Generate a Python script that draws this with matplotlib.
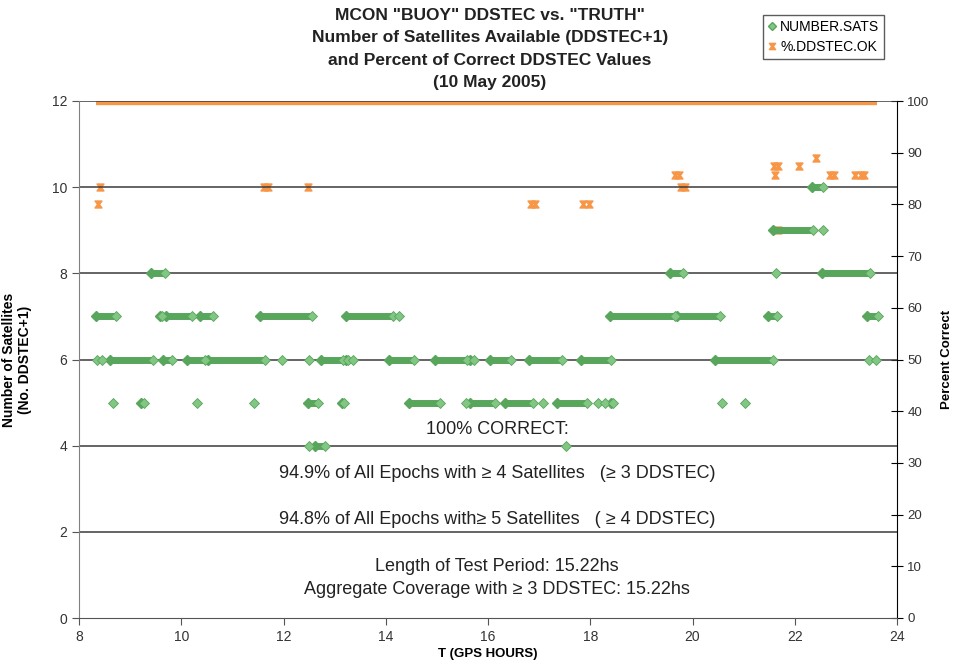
import numpy as np
import matplotlib
matplotlib.use("Agg")
import matplotlib.pyplot as plt
from matplotlib.path import Path

plt.rcParams['font.family'] = ['Liberation Sans', 'DejaVu Sans']

# number of satellites: runs (start hour, end hour) per level
sat_runs = {
    4: [(12.50, 12.50), (12.62, 12.81), (17.53, 17.53)],
    5: [(8.66, 8.66), (9.22, 9.28), (10.31, 10.31), (11.42, 11.42), (12.48, 12.67),
        (13.14, 13.18), (14.45, 15.06), (15.57, 15.57), (15.65, 16.14), (16.33, 16.88),
        (17.08, 17.08), (17.35, 17.94), (18.15, 18.15), (18.29, 18.29), (18.40, 18.45),
        (20.58, 20.58), (21.03, 21.03)],
    6: [(8.35, 8.35), (8.45, 8.45), (8.61, 9.45), (9.64, 9.82), (10.11, 10.46),
        (10.52, 11.64), (11.97, 11.97), (12.50, 12.50), (12.73, 13.16), (13.22, 13.27),
        (13.36, 13.36), (14.06, 14.55), (14.96, 15.59), (15.65, 15.72), (16.04, 16.45),
        (16.80, 17.45), (17.82, 18.41), (20.44, 21.57), (23.45, 23.45), (23.59, 23.59)],
    7: [(8.33, 8.72), (9.58, 9.62), (9.70, 10.21), (10.37, 10.62), (11.54, 12.56),
        (13.22, 14.14), (14.26, 14.26), (18.39, 19.66), (19.70, 20.54), (21.48, 21.65),
        (23.41, 23.63)],
    8: [(9.40, 9.68), (19.56, 19.81), (21.63, 21.63), (22.53, 23.47)],
    9: [(21.58, 22.36), (22.55, 22.55)],
    10: [(22.34, 22.55)],
}

# percent of correct DDSTEC values
pct_full_run = (8.33, 23.60)   # 100% over this span
pct_t = [8.37, 8.41, 11.62, 11.70, 12.48, 16.85, 16.91, 17.86, 17.98,
         19.66, 19.74, 19.78, 19.86, 21.60, 21.68, 21.62, 21.67,
         22.08, 22.42, 22.69, 22.77, 23.18, 23.29, 23.35]
pct_v = [80, 83.3, 83.3, 83.3, 83.3, 80, 80, 80, 80,
         85.7, 85.7, 83.3, 83.3, 87.5, 87.5, 85.7, 75,
         87.5, 88.9, 85.7, 85.7, 85.7, 85.7, 85.7]

green = '#58a55c'
green_lt = '#82c683'
orange = '#f79646'

hourglass = Path([(-1, 1), (1, 1), (0.25, 0), (1, -1), (-1, -1), (-0.25, 0), (-1, 1)],
                 [Path.MOVETO] + [Path.LINETO] * 5 + [Path.CLOSEPOLY])

fig = plt.figure(figsize=(9.56, 6.68), dpi=100)
ax = fig.add_axes([79 / 956, 50 / 668, 818 / 956, 517 / 668])
ax2 = ax.twinx()

ax.set_xlim(8, 24)
ax.set_ylim(0, 12)
ax2.set_ylim(0, 100)

for y in range(2, 13, 2):
    ax.axhline(y, color='#3a3a3a', lw=1.1, zorder=1)

for lvl, runs in sat_runs.items():
    for t0, t1 in runs:
        if t1 > t0:
            ax.plot([t0, t1], [lvl, lvl], color=green, lw=5, solid_capstyle='butt', zorder=3)
            ax.plot([t0], [lvl], 'D', ms=5.5, color=green, mec=green, zorder=3)
            ax.plot([t1], [lvl], 'D', ms=5.5, mfc=green_lt, mec=green, mew=0.6, zorder=4)
        else:
            ax.plot([t0], [lvl], 'D', ms=5, mfc=green_lt, mec=green, mew=0.6, zorder=4)

ax2.plot(pct_full_run, [100, 100], color=orange, lw=6, solid_capstyle='butt', zorder=3)
ax2.plot(pct_t, pct_v, ls='none', marker=hourglass, ms=5, color=orange, mec=orange, zorder=4)

ax.set_zorder(ax2.get_zorder() + 1)
ax.patch.set_visible(False)

for a in (ax, ax2):
    a.spines['top'].set_visible(False)
ax.spines['left'].set_color('#808080')
ax.spines['right'].set_visible(False)
ax.spines['bottom'].set_color('#555555')
ax2.spines['left'].set_visible(False)
ax2.spines['bottom'].set_visible(False)
ax2.spines['right'].set_color('black')

ax.set_xticks(range(8, 25, 2))
ax.set_yticks(range(0, 13, 2))
ax2.set_yticks(range(0, 101, 10))
ax.tick_params(axis='both', labelsize=10, labelcolor='#333333', length=5, color='#555555')
ax2.tick_params(axis='y', direction='inout', length=8, labelsize=9.5, labelcolor='#333333')

ax.set_xlabel('T (GPS HOURS)', fontsize=9.5, fontweight='bold', labelpad=3)
ax.set_ylabel('Number of Satellites\n(No. DDSTEC+1)', fontsize=10, fontweight='bold',
              labelpad=14)
ax2.set_ylabel('Percent Correct', fontsize=9.5, fontweight='bold', labelpad=8)

fig.text(490 / 956, 1 - 49 / 668,
         'MCON "BUOY" DDSTEC vs. "TRUTH"\nNumber of Satellites Available (DDSTEC+1)\n'
         'and Percent of Correct DDSTEC Values\n(10 May 2005)',
         ha='center', va='center', fontsize=12.5, fontweight='bold', color='#222222',
         linespacing=1.62)

txt = dict(ha='center', va='center', fontsize=13, color='#222222',
           transform=fig.transFigure)
fig.text(497 / 956, 1 - 429 / 668, '100% CORRECT:', **txt)
fig.text(497 / 956, 1 - 474 / 668,
         '94.9% of All Epochs with \u2265 4 Satellites   (\u2265 3 DDSTEC)', **txt)
fig.text(497 / 956, 1 - 520 / 668,
         '94.8% of All Epochs with\u2265 5 Satellites   ( \u2265 4 DDSTEC)', **txt)
fig.text(497 / 956, 1 - 578 / 668,
         'Length of Test Period: 15.22hs\nAggregate Coverage with \u2265 3 DDSTEC: 15.22hs',
         linespacing=1.4, **txt)

# legend
h1, = ax.plot([], [], 'D', ms=4.5, mfc=green_lt, mec=green, ls='none')
h2, = ax.plot([], [], ls='none', marker=hourglass, ms=4.5, color=orange)
fig.legend([h1, h2], ['NUMBER.SATS', '%.DDSTEC.OK'], loc='upper right',
           bbox_to_anchor=(891 / 956, 1 - 8 / 668), fontsize=10, frameon=True,
           fancybox=False, edgecolor='#333333', handlelength=0.6, handletextpad=0.3,
           borderpad=0.35, labelspacing=0.45)

fig.savefig('out.png', dpi=100)
